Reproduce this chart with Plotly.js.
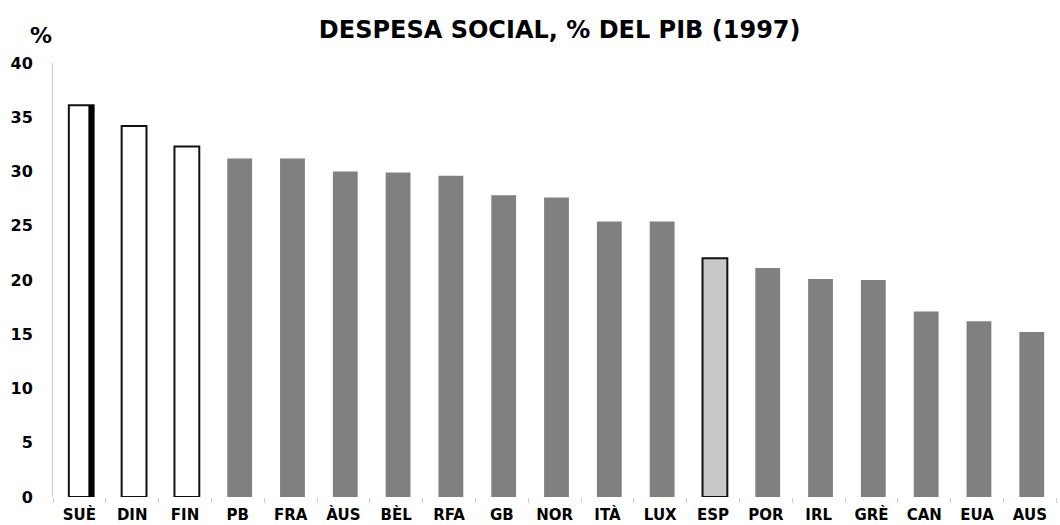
<!DOCTYPE html>
<html><head><meta charset="utf-8">
<script src="https://cdn.plot.ly/plotly-3.0.1.min.js"></script>
<style>body{margin:0;background:#fff}#c{width:1060px;height:525px}</style>
</head><body><div id="c"></div>
<script>
const countries = ["SUÈ","DIN","FIN","PB","FRA","ÀUS","BÈL","RFA","GB","NOR","ITÀ","LUX","ESP","POR","IRL","GRÈ","CAN","EUA","AUS"];
const spending = [36.1,34.2,32.3,31.2,31.2,30.0,29.9,29.6,27.8,27.6,25.4,25.4,22.0,21.1,20.1,20.0,17.1,16.2,15.2];
const groups = ["nordic","nordic","nordic","other","other","other","other","other","other","other","other","other","spain","other","other","other","other","other","other"];

const fillBy = {nordic:"#ffffff", spain:"#c8c8c8", other:"#808080"};
const lineBy = {nordic:"#111111", spain:"#111111", other:"#808080"};
const lwBy = {nordic:2, spain:2, other:0};
const F = "DejaVu Sans, Liberation Sans, Arial";

const trace = {
  type:"bar", x:countries, y:spending, width:0.47, offset:-0.2,
  marker:{color:groups.map(g=>fillBy[g]), line:{color:groups.map(g=>lineBy[g]), width:groups.map(g=>lwBy[g])}},
  hoverinfo:"x+y"
};
// thick dark right edge of the first (SUÈ) bar
const edge = {
  type:"bar", x:[countries[0]], y:[spending[0]], width:0.1, offset:0.17,
  marker:{color:"#000000", line:{width:0}}, hoverinfo:"skip"
};

const layout = {
  width:1060, height:525,
  margin:{l:53, r:0, t:63, b:28},
  paper_bgcolor:"#fff", plot_bgcolor:"#fff",
  showlegend:false, barmode:"overlay",
  title:{text:"DESPESA SOCIAL, % DEL PIB (1997)", x:0.528, xanchor:"center", y:0.96, font:{family:F, size:24, color:"#000", weight:"bold"}},
  font:{family:F, color:"#000"},
  xaxis:{type:"category", showline:false, showgrid:false, zeroline:false, ticks:"outside", tickson:"boundaries", ticklen:5, tickcolor:"#cccccc", tickwidth:1,
         tickfont:{size:15, weight:"bold", family:F}, ticklabelstandoff:7, range:[-0.5,18.57]},
  yaxis:{range:[0,40], dtick:5, showline:true, linecolor:"#cccccc", linewidth:1, showgrid:false, zeroline:false, ticks:"",
         tickfont:{size:16, weight:"bold", family:F}, ticklabelstandoff:16},
  annotations:[{text:"%", xref:"paper", yref:"paper", x:-0.012, y:1.03, xanchor:"center", yanchor:"bottom", showarrow:false, font:{size:22, weight:"bold", family:F}}]
};
Plotly.newPlot("c",[trace, edge],layout,{displayModeBar:false});
</script></body></html>
